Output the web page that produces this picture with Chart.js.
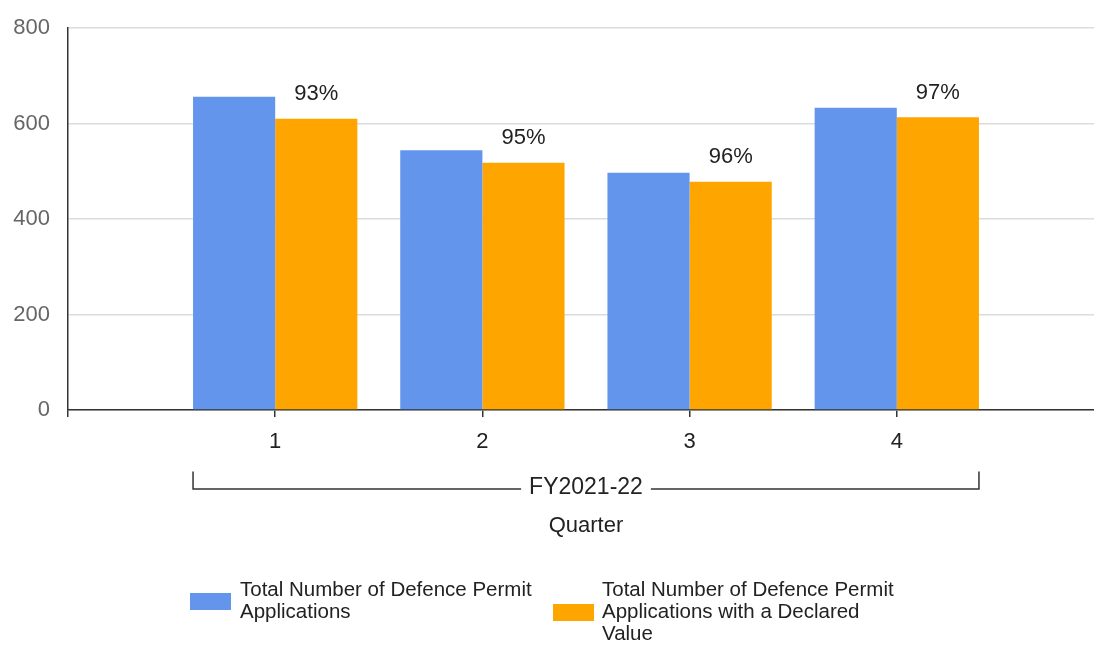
<!DOCTYPE html>
<html>
<head>
<meta charset="utf-8">
<script src="https://cdn.jsdelivr.net/npm/chart.js@4.4.0/dist/chart.umd.min.js"></script>
<style>
html,body{margin:0;padding:0;overflow:hidden;background:#fff;width:1094px;height:645px}
#wrap{position:relative;width:1116px;height:645px}
canvas{display:block}
</style>
</head>
<body>
<div id="wrap"><canvas id="c" width="1116" height="645"></canvas></div>
<script>
// ---- data ----
const categories = ['', '1', '2', '3', '4', ''];
const totalApplications = [null, 656, 544, 497, 633, null];
const declaredValueApplications = [null, 610, 518, 478, 613, null];
const percentLabels = [null, '93%', '95%', '96%', '97%', null];
const seriesLines1 = ['Total Number of Defence Permit', 'Applications'];
const seriesLines2 = ['Total Number of Defence Permit', 'Applications with a Declared', 'Value'];
const yMin = 0, yMax = 800, yStep = 200;
const groupLabel = 'FY2021-22';
const axisTitle = 'Quarter';

const FONT = '"Liberation Sans", Arial, Helvetica, sans-serif';
Chart.defaults.font.family = FONT;

const decor = {
  id: 'decor',
  afterDraw(chart) {
    const ctx = chart.ctx;
    const m0 = chart.getDatasetMeta(0);
    const m1 = chart.getDatasetMeta(1);
    const area = chart.chartArea;
    ctx.save();
    // percentage labels above the declared-value bars
    ctx.font = '22px ' + FONT;
    ctx.fillStyle = '#222';
    ctx.textAlign = 'center';
    ctx.textBaseline = 'alphabetic';
    percentLabels.forEach((t, i) => {
      if (!t) return;
      const bar = m1.data[i];
      ctx.fillText(t, bar.x, bar.y - 18.5);
    });
    // group bracket
    const first = m0.data[1];
    const last = m1.data[4];
    const x0 = first.x - first.width / 2;
    const x1 = last.x + last.width / 2;
    const cx = (x0 + x1) / 2;
    const by = area.bottom + 79;
    ctx.font = '23px ' + FONT;
    const tw = ctx.measureText(groupLabel).width;
    ctx.strokeStyle = '#333';
    ctx.lineWidth = 1.5;
    ctx.beginPath();
    ctx.moveTo(x0, by - 17.5);
    ctx.lineTo(x0, by);
    ctx.lineTo(cx - tw / 2 - 8, by);
    ctx.moveTo(cx + tw / 2 + 8, by);
    ctx.lineTo(x1, by);
    ctx.lineTo(x1, by - 17.5);
    ctx.stroke();
    ctx.textBaseline = 'middle';
    ctx.fillText(groupLabel, cx, by - 1);
    // axis title
    ctx.font = '22px ' + FONT;
    ctx.textBaseline = 'alphabetic';
    ctx.fillText(axisTitle, (area.left + area.right) / 2, area.bottom + 122);
    // legend
    ctx.font = '20.5px ' + FONT;
    ctx.textAlign = 'left';
    const lh = 22;
    const items = [
      {lines: seriesLines1, color: chart.data.datasets[0].backgroundColor, bx: 190, tx: 240},
      {lines: seriesLines2, color: chart.data.datasets[1].backgroundColor, bx: 553, tx: 602}
    ];
    const baseY = 596;
    items.forEach(it => {
      it.lines.forEach((ln, k) => ctx.fillText(ln, it.tx, baseY + k * lh));
      const mid = (baseY - 7) + (it.lines.length - 1) * lh / 2;
      ctx.fillStyle = it.color;
      ctx.fillRect(it.bx, mid + 1.5 - 8.5, 41, 17);
      ctx.fillStyle = '#222';
    });
    ctx.restore();
  }
};

new Chart(document.getElementById('c'), {
  type: 'bar',
  data: {
    labels: categories,
    datasets: [
      {label: seriesLines1.join(' '), data: totalApplications, backgroundColor: '#6495ED',
       categoryPercentage: 0.793, barPercentage: 1.0, borderWidth: 0},
      {label: seriesLines2.join(' '), data: declaredValueApplications, backgroundColor: '#FFA500',
       categoryPercentage: 0.793, barPercentage: 1.0, borderWidth: 0}
    ]
  },
  options: {
    responsive: false,
    animation: false,
    devicePixelRatio: 1,
    layout: {padding: {top: 28, left: 0, right: 0, bottom: 0}},
    plugins: {legend: {display: false}, tooltip: {enabled: false}},
    scales: {
      x: {
        offset: false,
        grid: {offset: false, drawOnChartArea: false, drawTicks: true, tickLength: 7, color: '#333', lineWidth: 1.5},
        border: {display: true, color: '#333', width: 1.5},
        ticks: {color: '#222', font: {size: 22}, padding: 12, maxRotation: 0, autoSkip: false},
        afterFit: s => { s.height = 235; }
      },
      y: {
        min: yMin, max: yMax,
        ticks: {stepSize: yStep, color: '#666', font: {size: 22}, padding: 0},
        grid: {color: '#dcdcdc', drawTicks: true, tickLength: 18, tickColor: 'rgba(0,0,0,0)', lineWidth: 1.5},
        border: {display: true, color: '#333', width: 1.5},
        afterFit: s => { s.width = 68; }
      }
    }
  },
  plugins: [decor]
});
</script>
</body>
</html>
